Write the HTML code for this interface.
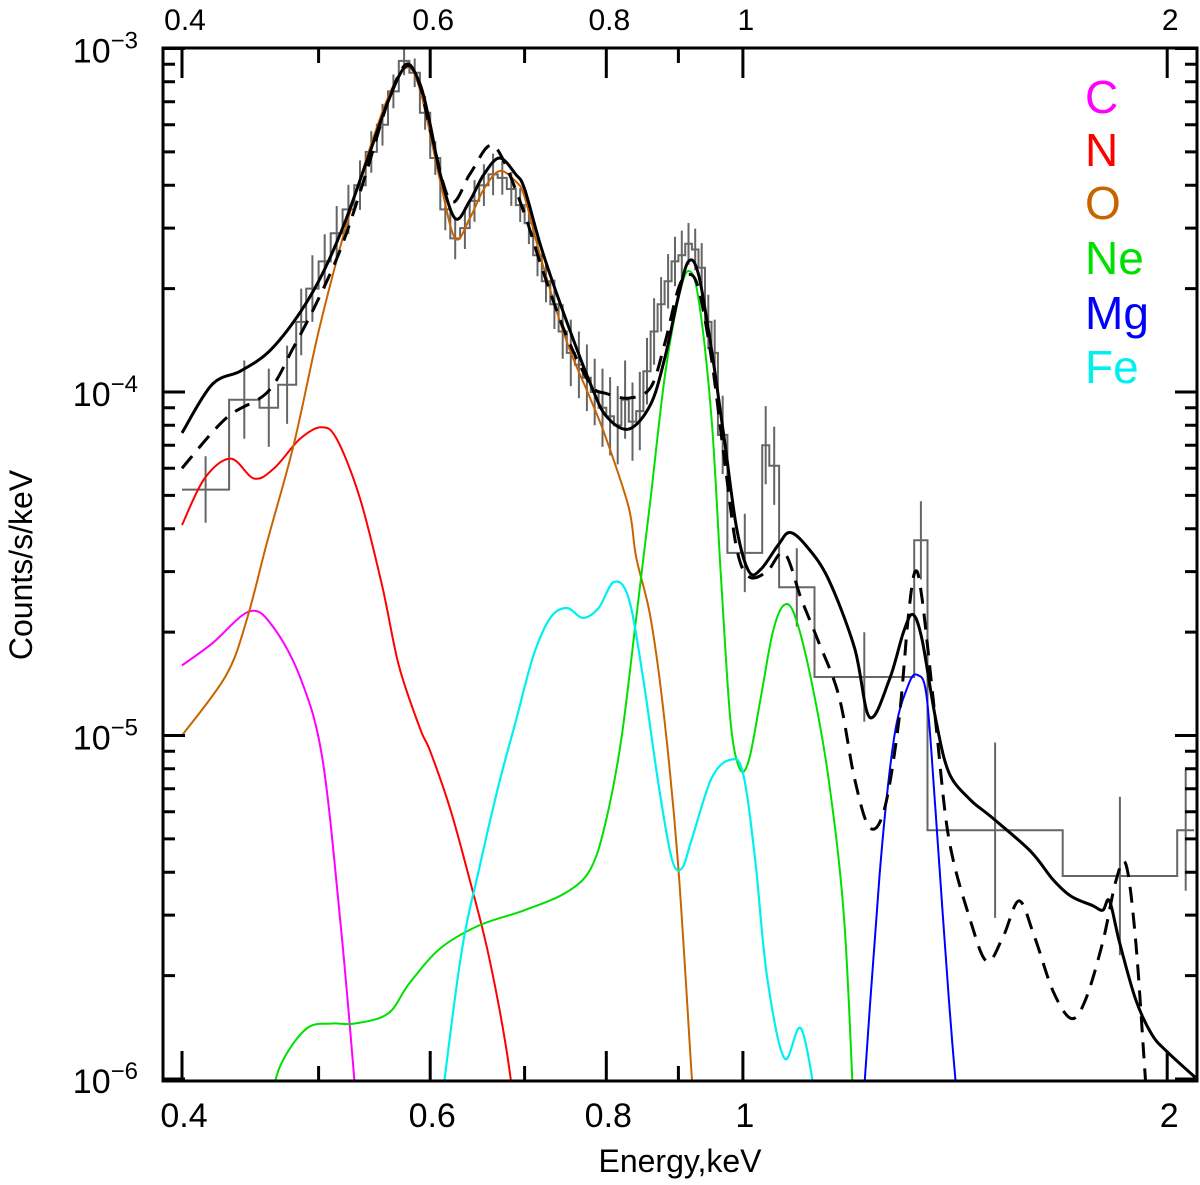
<!DOCTYPE html>
<html><head><meta charset="utf-8"><style>
html,body{margin:0;padding:0;background:#fff}
svg{display:block}
text{font-family:"Liberation Sans Narrow","Liberation Sans",sans-serif}
</style></head><body>
<svg id="chart" width="1200" height="1185" viewBox="0 0 1200 1185" xmlns="http://www.w3.org/2000/svg">
<defs><clipPath id="clip"><rect x="163" y="48" width="1034" height="1033"/></clipPath></defs>
<g id="plot" clip-path="url(#clip)"></g>
<g id="axes"></g>
<g font-size="46">
<text x="1085" y="113" fill="#ff00ff">C</text>
<text x="1085" y="166" fill="#ff0000">N</text>
<text x="1085" y="219" fill="#c86400">O</text>
<text x="1085" y="274" fill="#00e000">Ne</text>
<text x="1085" y="329" fill="#0000ff">Mg</text>
<text x="1085" y="383" fill="#00f0f0">Fe</text>
</g>
<text x="680" y="1172" font-size="32" text-anchor="middle">Energy,keV</text>
<text transform="translate(32,565) rotate(-90)" font-size="32" text-anchor="middle">Counts/s/keV</text>
</svg>
<script>
const blackE=[0.40,0.42,0.44,0.46,0.48,0.50,0.52,0.54,0.56,0.577,0.59,0.60,0.61,0.625,0.64,0.655,0.672,0.69,0.70,0.72,0.75,0.78,0.80,0.83,0.86,0.88,0.90,0.915,0.93,0.95,0.97,0.99,1.01,1.03,1.06,1.08,1.11,1.15,1.20,1.23,1.27,1.30,1.32,1.34,1.37,1.40,1.45,1.5,1.6,1.66,1.71,1.77,1.80,1.82,1.85,1.90,1.95,2.0,2.1];
const blackV=[7.6e-5,1.05e-4,1.15e-4,1.3e-4,1.6e-4,2.1e-4,3.0e-4,4.6e-4,7.0e-4,8.9e-4,7.9e-4,6.0e-4,4.3e-4,3.2e-4,3.6e-4,4.3e-4,4.8e-4,4.3e-4,3.9e-4,2.6e-4,1.6e-4,1.05e-4,8.5e-5,7.8e-5,9.2e-5,1.25e-4,1.9e-4,2.4e-4,2.2e-4,1.33e-4,7.3e-5,4.0e-5,3.0e-5,3.05e-5,3.6e-5,3.9e-5,3.55e-5,2.85e-5,1.8e-5,1.13e-5,1.45e-5,2.0e-5,2.25e-5,1.9e-5,1.12e-5,7.8e-6,6.5e-6,5.8e-6,4.6e-6,3.8e-6,3.4e-6,3.2e-6,3.1e-6,3.3e-6,2.5e-6,1.7e-6,1.35e-6,1.2e-6,1.0e-6];
const dashE=[0.40,0.43,0.46,0.48,0.50,0.52,0.54,0.56,0.577,0.59,0.60,0.62,0.64,0.66,0.675,0.70,0.72,0.75,0.78,0.80,0.83,0.86,0.88,0.90,0.915,0.93,0.95,0.97,0.99,1.01,1.04,1.07,1.10,1.13,1.17,1.20,1.23,1.26,1.29,1.31,1.325,1.34,1.37,1.40,1.45,1.49,1.53,1.57,1.61,1.66,1.71,1.75,1.80,1.84,1.87,1.90,1.93,1.96];
const dashV=[6.0e-5,8.4e-5,1.0e-4,1.35e-4,1.87e-4,2.7e-4,4.3e-4,7.0e-4,9.0e-4,7.8e-4,5.8e-4,3.6e-4,4.3e-4,5.2e-4,4.8e-4,3.3e-4,2.3e-4,1.45e-4,1.05e-4,9.9e-5,9.6e-5,1.03e-4,1.38e-4,2.0e-4,2.2e-4,2.0e-4,1.25e-4,6.4e-5,3.5e-5,2.9e-5,3.0e-5,3.4e-5,2.5e-5,1.9e-5,1.3e-5,7.5e-6,5.4e-6,6.1e-6,1.1e-5,2.2e-5,3.0e-5,2.5e-5,1.1e-5,5.0e-6,2.9e-6,2.2e-6,2.6e-6,3.3e-6,2.6e-6,1.8e-6,1.5e-6,1.7e-6,2.5e-6,3.8e-6,4.2e-6,2.5e-6,1.0e-6,4e-7];
const oE=[0.40,0.43,0.445,0.46,0.48,0.50,0.52,0.54,0.56,0.577,0.59,0.61,0.625,0.64,0.655,0.672,0.69,0.70,0.72,0.75,0.78,0.80,0.83,0.84,0.86,0.88,0.90,0.92,0.93];
const oV=[1.0e-5,1.5e-5,2.2e-5,3.7e-5,7.0e-5,1.5e-4,2.8e-4,4.7e-4,7.2e-4,8.8e-4,7.6e-4,4.1e-4,2.8e-4,3.2e-4,3.9e-4,4.4e-4,4.1e-4,3.7e-4,2.4e-4,1.4e-4,9.5e-5,7.3e-5,4.6e-5,3.3e-5,2.2e-5,1.1e-5,4.1e-6,1.0e-6,5e-7];
const nE=[0.40,0.415,0.433,0.45,0.465,0.485,0.502,0.515,0.535,0.555,0.57,0.59,0.60,0.62,0.64,0.66,0.68,0.695];
const nV=[4.1e-5,5.6e-5,6.4e-5,5.6e-5,6.0e-5,7.3e-5,7.9e-5,7.3e-5,4.9e-5,2.7e-5,1.6e-5,1.05e-5,9.0e-6,6.1e-6,3.8e-6,2.3e-6,1.2e-6,6e-7];
const cE=[0.40,0.42,0.447,0.465,0.486,0.503,0.518,0.53,0.535];
const cV=[1.6e-5,1.85e-5,2.3e-5,2.05e-5,1.45e-5,8.6e-6,2.9e-6,1.0e-6,6e-7];
const neE=[0.46,0.47,0.49,0.51,0.53,0.56,0.58,0.61,0.65,0.70,0.75,0.78,0.80,0.82,0.84,0.86,0.88,0.90,0.915,0.93,0.95,0.965,0.98,0.995,1.01,1.03,1.05,1.07,1.09,1.12,1.15,1.18,1.20];
const neV=[8e-7,1.1e-6,1.4e-6,1.45e-6,1.45e-6,1.55e-6,1.9e-6,2.4e-6,2.8e-6,3.1e-6,3.5e-6,4.1e-6,5.7e-6,9.8e-6,2.2e-5,4.9e-5,1.1e-4,1.87e-4,2.25e-4,1.87e-4,8.4e-5,2.85e-5,1.1e-5,8.0e-6,8.5e-6,1.3e-5,2.0e-5,2.4e-5,2.2e-5,1.4e-5,7.5e-6,2.9e-6,7e-7];
const feE=[0.605,0.63,0.65,0.67,0.69,0.71,0.73,0.75,0.77,0.79,0.81,0.83,0.85,0.87,0.89,0.905,0.92,0.95,0.98,1.0,1.02,1.04,1.07,1.10,1.13];
const feV=[6e-7,2.2e-6,4.1e-6,7.0e-6,1.1e-5,1.7e-5,2.2e-5,2.35e-5,2.2e-5,2.35e-5,2.8e-5,2.5e-5,1.45e-5,7.5e-6,4.4e-6,4.1e-6,5.0e-6,7.5e-6,8.5e-6,7.8e-6,4.4e-6,2.0e-6,1.15e-6,1.4e-6,8e-7];
const mgE=[1.21,1.25,1.28,1.31,1.33,1.35,1.37,1.40,1.43];
const mgV=[6e-7,3.9e-6,9.8e-6,1.4e-5,1.5e-5,1.3e-5,6e-6,1.7e-6,6e-7];
const binLo=[0.40,0.432,0.454,0.468,0.482,0.49,0.50,0.51,0.52,0.53,0.54,0.55,0.56,0.57,0.58,0.59,0.60,0.61,0.62,0.63,0.64,0.65,0.66,0.67,0.68,0.69,0.70,0.71,0.72,0.73,0.74,0.75,0.76,0.77,0.78,0.79,0.80,0.81,0.82,0.83,0.84,0.85,0.86,0.87,0.88,0.89,0.90,0.91,0.92,0.93,0.94,0.95,0.96,0.975,1.032,1.044,1.061,1.124,1.323,1.352,1.686,2.033];
const binHi=[0.432,0.454,0.468,0.482,0.49,0.50,0.51,0.52,0.53,0.54,0.55,0.56,0.57,0.58,0.59,0.60,0.61,0.62,0.63,0.64,0.65,0.66,0.67,0.68,0.69,0.70,0.71,0.72,0.73,0.74,0.75,0.76,0.77,0.78,0.79,0.80,0.81,0.82,0.83,0.84,0.85,0.86,0.87,0.88,0.89,0.90,0.91,0.92,0.93,0.94,0.95,0.96,0.975,1.032,1.044,1.061,1.124,1.323,1.352,1.686,2.033,2.09];
const binVal=[5.2e-5,9.5e-5,9.0e-5,1.05e-4,1.6e-4,2.0e-4,2.4e-4,2.9e-4,3.4e-4,4.0e-4,5.0e-4,6.0e-4,7.5e-4,9.2e-4,8.5e-4,6.5e-4,4.8e-4,3.4e-4,2.8e-4,3.0e-4,3.6e-4,4.0e-4,4.3e-4,4.2e-4,3.9e-4,3.5e-4,3.1e-4,2.5e-4,2.1e-4,1.8e-4,1.5e-4,1.3e-4,1.2e-4,1.1e-4,1.0e-4,9.0e-5,8.5e-5,8.0e-5,9.5e-5,8.2e-5,8.8e-5,1.15e-4,1.5e-4,1.8e-4,2.1e-4,2.4e-4,2.5e-4,2.7e-4,2.6e-4,2.3e-4,1.6e-4,1.3e-4,7.5e-5,3.4e-5,7.0e-5,6.1e-5,2.7e-5,1.48e-5,3.7e-5,5.3e-6,3.9e-6,5.3e-6];
const binErr=[0.25,0.3,0.3,0.3,0.25,0.25,0.2,0.2,0.18,0.18,0.15,0.15,0.12,0.1,0.1,0.12,0.12,0.15,0.15,0.15,0.15,0.15,0.15,0.12,0.12,0.12,0.15,0.15,0.15,0.18,0.2,0.25,0.25,0.25,0.25,0.3,0.3,0.3,0.3,0.3,0.3,0.25,0.25,0.2,0.2,0.18,0.18,0.15,0.15,0.18,0.2,0.25,0.3,0.3,0.3,0.3,0.3,0.35,0.3,0.8,0.7,0.5];

const X0=182, PXD=1409.5, Y0=48.5, PYD=343.5;
function sx(e){return X0+PXD*Math.log10(e/0.4);}
function sy(v){return Y0+PYD*(-3-Math.log10(v));}
const NS='http://www.w3.org/2000/svg';
const plot=document.getElementById('plot'), axes=document.getElementById('axes');
function mk(tag,attrs,parent){const el=document.createElementNS(NS,tag);for(const k in attrs)el.setAttribute(k,attrs[k]);parent.appendChild(el);return el;}
function smooth(E,V){
  const p=E.map((e,i)=>[sx(e),sy(V[i])]);
  let d='M'+p[0][0].toFixed(1)+','+p[0][1].toFixed(1);
  for(let i=0;i<p.length-1;i++){
    const a=p[Math.max(i-1,0)],b=p[i],c=p[i+1],n=p[Math.min(i+2,p.length-1)];
    const c1=[b[0]+(c[0]-a[0])/6,b[1]+(c[1]-a[1])/6],c2=[c[0]-(n[0]-b[0])/6,c[1]-(n[1]-b[1])/6];
    d+='C'+c1.map(v=>v.toFixed(1))+' '+c2.map(v=>v.toFixed(1))+' '+c[0].toFixed(1)+','+c[1].toFixed(1);
  }
  return d;
}
let hd='';
for(let i=0;i<binLo.length;i++){
  const y=sy(binVal[i]).toFixed(1);
  hd+=(i===0?'M':'L')+sx(binLo[i]).toFixed(1)+','+y+'L'+sx(binHi[i]).toFixed(1)+','+y;
}
const hist=mk('path',{d:hd,fill:'none',stroke:'#666','stroke-width':2},plot);


let ed='';
for(let i=0;i<binLo.length;i++){
  const xm=sx(Math.sqrt(binLo[i]*binHi[i])).toFixed(1);
  ed+='M'+xm+','+sy(binVal[i]*(1+binErr[i])).toFixed(1)+'L'+xm+','+sy(binVal[i]/(1+binErr[i])).toFixed(1);
}
const errs=mk('path',{d:ed,fill:'none',stroke:'#666','stroke-width':2},plot);


const series=[
  ['c-line',cE,cV,'#ff00ff',2,null],
  ['n-line',nE,nV,'#ff0000',2,null],
  ['o-line',oE,oV,'#c86400',2,null],
  ['ne-line',neE,neV,'#00e000',2,null],
  ['fe-line',feE,feV,'#00f0f0',2.2,null],
  ['mg-line',mgE,mgV,'#0000ff',2,null],
  ['model-dashed-line',dashE,dashV,'#000',3,'16,10'],
  ['model-total-line',blackE,blackV,'#000',3,null]
];
for(const s of series){
  const el=mk('path',{d:smooth(s[1],s[2]),fill:'none',stroke:s[3],'stroke-width':s[4]},plot);
  if(s[5])el.setAttribute('stroke-dasharray',s[5]);
  
  
}
const fr=mk('rect',{x:163,y:48,width:1034,height:1033,fill:'none',stroke:'#000','stroke-width':3},axes);


const yExp=[-3,-4,-5,-6];
const yLabels=['−3','−4','−5','−6'];
let td='';
for(let dcd=-6;dcd<-3;dcd++){for(let m=1;m<10;m++){const v=m*Math.pow(10,dcd);const y=sy(v).toFixed(1);const L=m===1?22:12;td+='M163,'+y+'h'+L+'M1197,'+y+'h-'+L;}}
td+='M163,'+sy(1e-3).toFixed(1)+'h22M1197,'+sy(1e-3).toFixed(1)+'h-22';
const xMaj=[0.4,0.6,0.8,1,2];
const xMin=[0.5,0.7,0.9];
for(const e of xMaj){const x=sx(e).toFixed(1);td+='M'+x+',1081v-30M'+x+',48v30';}
for(const e of xMin){const x=sx(e).toFixed(1);td+='M'+x+',1081v-15M'+x+',48v15';}
const tk=mk('path',{d:td,stroke:'#000','stroke-width':3,fill:'none'},axes);


yExp.forEach((p,i)=>{
  const t=mk('text',{x:138,y:sy(Math.pow(10,p))+14,'font-size':34,'text-anchor':'end'},axes);
  
  
  t.appendChild(document.createTextNode('10'));
  const s=mk('tspan',{dy:-14,'font-size':24},t);s.textContent=yLabels[i];
});
const xLab=['0.4','0.6','0.8','1','2'];
xMaj.forEach((e,i)=>{
  const t=mk('text',{x:sx(e)+2,y:1127,'font-size':34,'text-anchor':'middle'},axes);
  t.textContent=xLab[i];
  
  
  const t2=mk('text',{x:sx(e)+3,y:30,'font-size':30,'text-anchor':'middle'},axes);
  t2.textContent=xLab[i];
  
  
});
</script>
</body></html>
